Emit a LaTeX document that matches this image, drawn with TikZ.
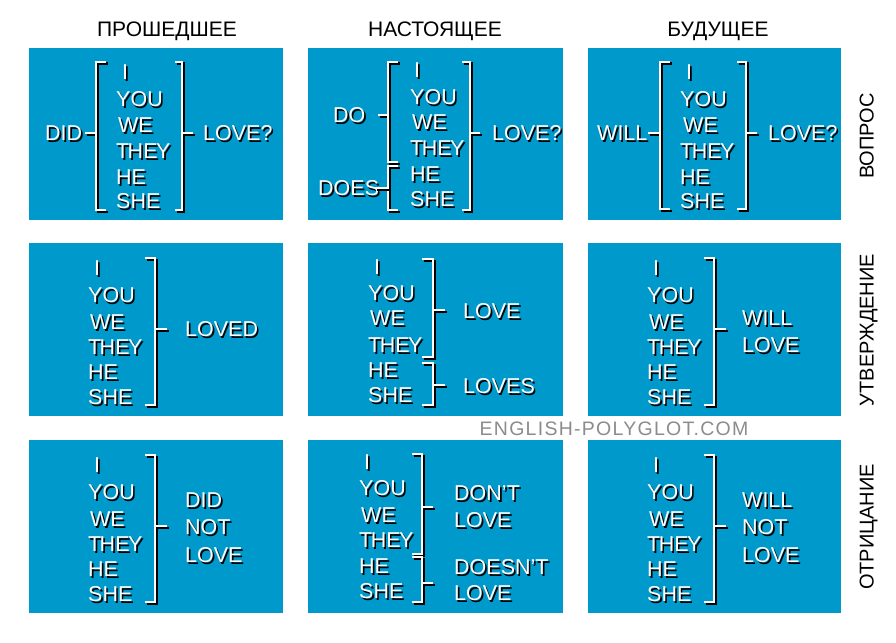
\documentclass[tikz,border=0pt]{standalone}
\usepackage{fontspec}
\setmainfont{Liberation Sans}
\newfontfamily\wmfont[LetterSpace=6.5]{Liberation Sans}
\definecolor{panelblue}{RGB}{0,153,204}
\definecolor{markgray}{RGB}{140,140,140}
\newcommand\shd[1]{\makebox[0pt][l]{\kern1.6pt\raisebox{-1.6pt}{\color{black}#1}}{\color{white}#1}}
\newcommand\THY{T\kern-1.6pt HE\kern-1.4pt Y}
\tikzset{
  panel/.style={fill=panelblue},
  txt/.style={anchor=west, inner sep=0pt, text height=15.5pt, text depth=0pt, font=\fontsize{21.5}{21.5}\selectfont},
  hdr/.style={inner sep=0pt, text height=15pt, text depth=0pt, font=\fontsize{21}{21}\selectfont, text=black},
  side/.style={inner sep=0pt, text height=15pt, text depth=0pt, font=\fontsize{20}{20}\selectfont, text=black, rotate=90},
  brk/.style={draw=white, line width=2pt, preaction={draw=black, line width=2pt, transform canvas={shift={(1.5pt,-1.5pt)}}}},
  wm/.style={inner sep=0pt, font=\wmfont\fontsize{19.5}{19.5}\selectfont, text=markgray}
}
\begin{document}
\begin{tikzpicture}[x=1pt,y=-1pt]
\useasboundingbox (0,0) rectangle (896,642);
\fill[white] (0,0) rectangle (896,642);
% panels
\fill[panel] (29,48) rectangle (283,220);
\fill[panel] (308,48) rectangle (563,220);
\fill[panel] (588,48) rectangle (841,220);
\fill[panel] (29,243) rectangle (283,416);
\fill[panel] (308,243) rectangle (563,416);
\fill[panel] (588,243) rectangle (841,416);
\fill[panel] (29,440) rectangle (283,613);
\fill[panel] (308,440) rectangle (563,613);
\fill[panel] (588,440) rectangle (841,613);
% headers
\node[hdr] (h1) at (167,29) {ПРОШЕДШЕЕ};
\node[hdr] (h2) at (435,29) {НАСТОЯЩЕЕ};
\node[hdr] (h3) at (718,29) {БУДУЩЕЕ};
\node[side] (s1) at (866,136) {ВОПРОС};
\node[side] (s2) at (866,330) {УТВЕРЖДЕНИЕ};
\node[side] (s3) at (866,527) {ОТРИЦАНИЕ};
\node[wm] (wm) at (614,429) {ENGLISH-POLYGLOT.COM};
% ---------- row 1 col 1
\node[txt] (a1did) at (45,133) {\shd{DID}};
\node[txt] (a1i) at (122,72) {\shd{I}};
\node[txt] (a1you) at (116,99) {\shd{YOU}};
\node[txt] (a1we) at (118,125) {\shd{WE}};
\node[txt] (a1they) at (116,151) {\shd{\THY}};
\node[txt] (a1he) at (116,177) {\shd{HE}};
\node[txt] (a1she) at (116,201) {\shd{SHE}};
\node[txt] (a1love) at (203,133) {\shd{LOVE?}};
\path[brk] (85,133) -- (96,133);
\path[brk] (106,62) -- (96,62) -- (96,210) -- (106,210);
\path[brk] (175,62) -- (182,62) -- (182,210) -- (175,210);
\path[brk] (182,133) -- (193,133);
% ---------- row 1 col 2
\node[txt] (a2do) at (333,115) {\shd{DO}};
\node[txt] (a2does) at (318,188) {\shd{DOES}};
\node[txt] (a2i) at (414,70) {\shd{I}};
\node[txt] (a2you) at (410,97) {\shd{YOU}};
\node[txt] (a2we) at (412,122) {\shd{WE}};
\node[txt] (a2they) at (410,148) {\shd{\THY}};
\node[txt] (a2he) at (410,174) {\shd{HE}};
\node[txt] (a2she) at (410,199) {\shd{SHE}};
\node[txt] (a2love) at (492,133) {\shd{LOVE?}};
\path[brk] (378,115) -- (388,115);
\path[brk] (398,62) -- (388,62) -- (388,162) -- (398,162);
\path[brk] (398,166) -- (388,166) -- (388,210) -- (398,210);
\path[brk] (375,188) -- (388,188);
\path[brk] (462,62) -- (470,62) -- (470,210) -- (462,210);
\path[brk] (470,133) -- (480,133);
% ---------- row 1 col 3
\node[txt] (a3will) at (597,133) {\shd{WILL}};
\node[txt] (a3i) at (686,72) {\shd{I}};
\node[txt] (a3you) at (680,99) {\shd{YOU}};
\node[txt] (a3we) at (683,125) {\shd{WE}};
\node[txt] (a3they) at (680,151) {\shd{\THY}};
\node[txt] (a3he) at (680,177) {\shd{HE}};
\node[txt] (a3she) at (680,201) {\shd{SHE}};
\node[txt] (a3love) at (768,133) {\shd{LOVE?}};
\path[brk] (648,133) -- (660,133);
\path[brk] (670,62) -- (660,62) -- (660,209) -- (670,209);
\path[brk] (737,62) -- (746,62) -- (746,209) -- (737,209);
\path[brk] (746,133) -- (757,133);
% ---------- row 2 col 1
\node[txt] (b1i) at (94,268) {\shd{I}};
\node[txt] (b1you) at (88,295) {\shd{YOU}};
\node[txt] (b1we) at (90,322) {\shd{WE}};
\node[txt] (b1they) at (88,347) {\shd{\THY}};
\node[txt] (b1he) at (88,372) {\shd{HE}};
\node[txt] (b1she) at (88,397) {\shd{SHE}};
\node[txt] (b1loved) at (185,329) {\shd{LOVED}};
\path[brk] (145,258) -- (155,258) -- (155,405) -- (145,405);
\path[brk] (155,329) -- (167,329);
% ---------- row 2 col 2
\node[txt] (b2i) at (374,267) {\shd{I}};
\node[txt] (b2you) at (368,293) {\shd{YOU}};
\node[txt] (b2we) at (370,318) {\shd{WE}};
\node[txt] (b2they) at (368,345) {\shd{\THY}};
\node[txt] (b2he) at (368,370) {\shd{HE}};
\node[txt] (b2she) at (368,395) {\shd{SHE}};
\node[txt] (b2love) at (463,311) {\shd{LOVE}};
\node[txt] (b2loves) at (463,386) {\shd{LOVES}};
\path[brk] (422,259) -- (433,259) -- (433,357) -- (422,357);
\path[brk] (433,310) -- (445,310);
\path[brk] (422,363) -- (433,363) -- (433,405) -- (422,405);
\path[brk] (433,385) -- (445,385);
% ---------- row 2 col 3
\node[txt] (b3i) at (653,268) {\shd{I}};
\node[txt] (b3you) at (647,295) {\shd{YOU}};
\node[txt] (b3we) at (649,322) {\shd{WE}};
\node[txt] (b3they) at (647,347) {\shd{\THY}};
\node[txt] (b3he) at (647,372) {\shd{HE}};
\node[txt] (b3she) at (647,397) {\shd{SHE}};
\node[txt] (b3will) at (742,318) {\shd{WILL}};
\node[txt] (b3love) at (742,345) {\shd{LOVE}};
\path[brk] (704,258) -- (714,258) -- (714,405) -- (704,405);
\path[brk] (714,329) -- (726,329);
% ---------- row 3 col 1
\node[txt] (c1i) at (94,465) {\shd{I}};
\node[txt] (c1you) at (88,492) {\shd{YOU}};
\node[txt] (c1we) at (90,519) {\shd{WE}};
\node[txt] (c1they) at (88,544) {\shd{\THY}};
\node[txt] (c1he) at (88,569) {\shd{HE}};
\node[txt] (c1she) at (88,594) {\shd{SHE}};
\node[txt] (c1did) at (185,500) {\shd{DID}};
\node[txt] (c1not) at (185,527) {\shd{NOT}};
\node[txt] (c1love) at (185,555) {\shd{LOVE}};
\path[brk] (145,455) -- (155,455) -- (155,602) -- (145,602);
\path[brk] (155,526) -- (167,526);
% ---------- row 3 col 2
\node[txt] (c2i) at (364,462) {\shd{I}};
\node[txt] (c2you) at (359,488) {\shd{YOU}};
\node[txt] (c2we) at (361,515) {\shd{WE}};
\node[txt] (c2they) at (359,540) {\shd{\THY}};
\node[txt] (c2he) at (359,566) {\shd{HE}};
\node[txt] (c2she) at (359,591) {\shd{SHE}};
\node[txt] (c2dont) at (454,493) {\shd{DON’T}};
\node[txt] (c2love) at (454,520) {\shd{LOVE}};
\node[txt] (c2doesnt) at (454,567) {\shd{DOESN’T}};
\node[txt] (c2love2) at (454,593) {\shd{LOVE}};
\path[brk] (412,454) -- (422,454) -- (422,554) -- (412,554);
\path[brk] (422,507) -- (433,507);
\path[brk] (412,557) -- (422,557) -- (422,602) -- (412,602);
\path[brk] (422,583) -- (433,583);
% ---------- row 3 col 3
\node[txt] (c3i) at (653,465) {\shd{I}};
\node[txt] (c3you) at (647,492) {\shd{YOU}};
\node[txt] (c3we) at (649,519) {\shd{WE}};
\node[txt] (c3they) at (647,544) {\shd{\THY}};
\node[txt] (c3he) at (647,569) {\shd{HE}};
\node[txt] (c3she) at (647,594) {\shd{SHE}};
\node[txt] (c3will) at (742,500) {\shd{WILL}};
\node[txt] (c3not) at (742,527) {\shd{NOT}};
\node[txt] (c3love) at (742,555) {\shd{LOVE}};
\path[brk] (704,455) -- (714,455) -- (714,602) -- (704,602);
\path[brk] (714,526) -- (726,526);
\end{tikzpicture}
\end{document}
